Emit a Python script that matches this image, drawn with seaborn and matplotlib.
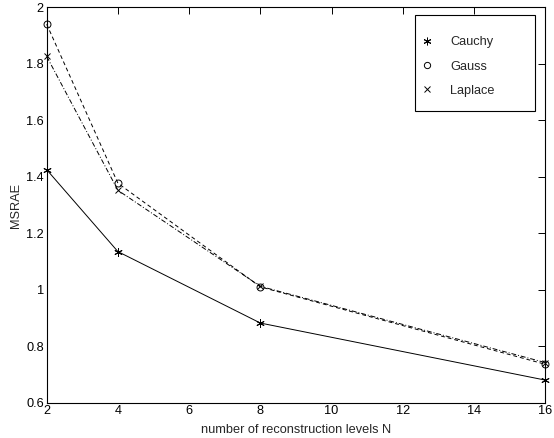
import matplotlib
matplotlib.use("Agg")
import matplotlib.pyplot as plt
from matplotlib.lines import Line2D
from matplotlib.patches import Rectangle
import seaborn as sns
import pandas as pd

levels = [2, 4, 8, 16]
cauchy = [1.425, 1.135, 0.882, 0.680]
gauss = [1.940, 1.377, 1.010, 0.736]
laplace = [1.826, 1.352, 1.012, 0.742]
series_names = ["Cauchy", "Gauss", "Laplace"]
xticks = [2, 4, 6, 8, 10, 12, 14, 16]
yticks = [0.6, 0.8, 1.0, 1.2, 1.4, 1.6, 1.8, 2.0]
ytick_labels = ["0.6", "0.8", "1", "1.2", "1.4", "1.6", "1.8", "2"]

FS = 9.2
sns.set_style("white")
plt.rcParams["font.family"] = ["Liberation Sans", "DejaVu Sans"]
plt.rcParams["font.size"] = FS

df = pd.DataFrame({
    "N": levels * 3,
    "MSRAE": cauchy + gauss + laplace,
    "dist": sum([[n] * len(levels) for n in series_names], []),
})

fig = plt.figure(figsize=(5.54, 4.38), dpi=100)
ax = fig.add_axes([46.7 / 554, (438 - 402.7) / 438, (545.3 - 46.7) / 554, (402.7 - 7.3) / 438])

asterisk = (6, 2, 0)
styles = {
    "Cauchy": dict(ls="-", marker=asterisk, ms=6, mfc="black"),
    "Gauss": dict(ls=(0, (4, 3)), marker="o", ms=5, mfc="none"),
    "Laplace": dict(ls=(0, (5, 2, 1, 2)), marker="x", ms=5, mfc="none"),
}
for name in series_names:
    st = styles[name]
    sub = df[df["dist"] == name]
    sns.lineplot(data=sub, x="N", y="MSRAE", ax=ax, color="black", lw=0.7,
                 linestyle=st["ls"], marker=st["marker"], markersize=st["ms"],
                 markerfacecolor=st["mfc"], markeredgecolor="black",
                 markeredgewidth=0.7, legend=False, clip_on=False, zorder=3)

ax.set_xlim(2, 16)
ax.set_ylim(0.6, 2.0)
ax.set_xticks(xticks)
ax.set_xticklabels([str(t) for t in xticks])
ax.set_yticks(yticks)
ax.set_yticklabels(ytick_labels)
ax.tick_params(direction="in", length=5, width=0.7, top=True, right=True,
               labelsize=FS, pad=2, colors="black")
for s in ax.spines.values():
    s.set_visible(True)
    s.set_color("black")
    s.set_linewidth(0.8)
ax.set_xlabel("number of reconstruction levels N", fontsize=FS, labelpad=4.5)
ax.set_ylabel("MSRAE", fontsize=FS, labelpad=3)

# legend frame (MATLAB style box)
frame = Rectangle((0.739, 0.738), 0.240, 0.2425, transform=ax.transAxes,
                  facecolor="white", edgecolor="black", lw=0.8, zorder=5)
ax.add_patch(frame)

handles = [Line2D([], [], ls="none", color="black", marker=styles[n]["marker"],
                  markersize=styles[n]["ms"] - 0.5, markerfacecolor=styles[n]["mfc"],
                  markeredgewidth=0.7) for n in series_names]
leg = ax.legend(handles, series_names, loc="upper left",
                bbox_to_anchor=(0.750, 0.927), borderaxespad=0, borderpad=0,
                frameon=False, handlelength=1.0, handletextpad=1.3,
                labelspacing=0.97, fontsize=FS)
leg.set_zorder(6)

fig.savefig("out.png", dpi=100, facecolor="white")
